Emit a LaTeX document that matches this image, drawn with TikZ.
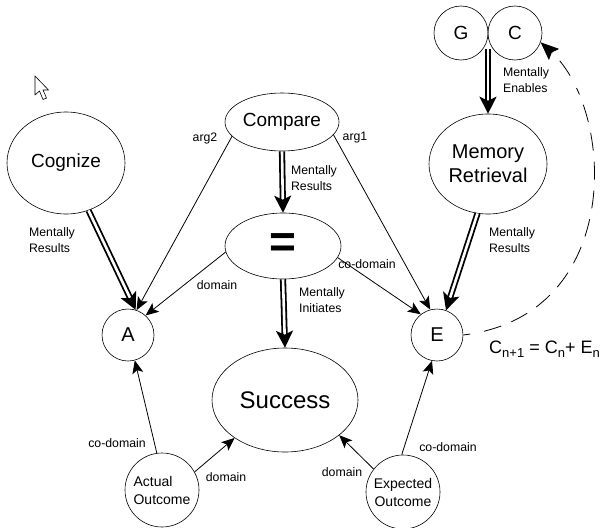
\documentclass[tikz,border=0pt]{standalone}
\usepackage{fontspec}
\setmainfont{Liberation Sans}
\usetikzlibrary{arrows.meta,shapes.geometric,calc}
\begin{document}
\begin{tikzpicture}[x=1pt,y=-1pt,
  every node/.style={inner sep=0pt},
  ell/.style={draw, ellipse, line width=0.6pt},
  circ/.style={draw, circle, line width=0.6pt},
  lbl/.style={font=\fontsize{12.3}{16}\selectfont, align=left},
  thinarrow/.style={line width=0.8pt, -{Stealth[length=13pt,width=11pt,inset=3pt]}},
  dbl/.style={line width=1.8pt, double, double distance=2.6pt, -{Stealth[length=17pt,width=17pt,inset=4pt]}},
]
\useasboundingbox (0,0) rectangle (601,527);

% cursor
\draw[line width=0.6pt, line join=round] (35,76) -- (35,95) -- (39.5,91) -- (43,99.5) -- (46.5,98) -- (43,90) -- (48.5,90) -- cycle;

% nodes
\node[ell, minimum width=118pt, minimum height=102pt, font=\fontsize{19}{22}\selectfont] (cog) at (66,163) {Cognize};
\node[ell, minimum width=114pt, minimum height=58pt, font=\fontsize{19}{22}\selectfont] (cmp) at (282,122) {Compare};
\node[ell, minimum width=116pt, minimum height=66pt] (eq) at (283,246) {};
\node[font=\fontsize{46}{46}\selectfont\bfseries] (eqt) at (eq.center) {=};
\node[ell, minimum width=146pt, minimum height=104pt, font=\fontsize{24}{28}\selectfont] (suc) at (285,400) {Success};
\node[circ, minimum size=52pt, font=\fontsize{20}{24}\selectfont] (A) at (128,335) {A};
\node[circ, minimum size=52pt, font=\fontsize{20}{24}\selectfont] (E) at (437,335) {E};
\node[circ, minimum size=74pt, font=\fontsize{14}{18}\selectfont, align=left] (ao) at (162,490) {Actual\\Outcome};
\node[circ, minimum size=74pt, font=\fontsize{14}{18}\selectfont, align=center] (eo) at (403,492) {Expected\\Outcome};
\node[circ, minimum size=54pt, font=\fontsize{19}{22}\selectfont] (G) at (461,33) {G};
\node[circ, minimum size=54pt, font=\fontsize{19}{22}\selectfont] (C) at (515,33) {C};
\node[ell, minimum width=118pt, minimum height=100pt, font=\fontsize{20}{24}\selectfont, align=center] (mem) at (488,164) {Memory\\Retrieval};
\coordinate (gc) at (488,49);

% mentally links
\draw[dbl] (cog) -- (A.73);
\draw[dbl] (cmp.south) -- (eq.north);
\draw[dbl] (eq.south) -- (suc.north);
\draw[dbl] (gc) -- (mem.north);
\draw[dbl] (mem.258) -- (E.70);

\node[lbl] (l1) at (52,240) {Mentally\\Results};
\node[lbl] (l2) at (314,178) {Mentally\\Results};
\node[lbl] (l3) at (322,300) {Mentally\\Initiates};
\node[lbl] (l4) at (526,80) {Mentally\\Enables};
\node[lbl] (l5) at (512,240) {Mentally\\Results};

% thin links
\draw[thinarrow] (cmp.196) -- (A.71);
\draw[thinarrow] (cmp.346) -- (E.105);
\draw[thinarrow] (eq.186) -- (A.48);
\draw[thinarrow] (eq.348) -- (E.128);
\draw[thinarrow] (ao.98) -- (A.285);
\draw[thinarrow] (ao.29) -- (suc.217);
\draw[thinarrow] (eo.142) -- (suc.327);
\draw[thinarrow] (eo.92) -- (E.259);

\node[lbl] (t1) at (205,138) {arg2};
\node[lbl] (t2) at (355,138) {arg1};
\node[lbl] (t3) at (217,285) {domain};
\node[lbl] (t4) at (367,264) {co-domain};
\node[lbl] (t5) at (117,443) {co-domain};
\node[lbl] (t6) at (226,477) {domain};
\node[lbl] (t7) at (342,472) {domain};
\node[lbl] (t8) at (448,447) {co-domain};

% feedback
\draw[line width=0.8pt, dash pattern=on 7pt off 14pt on 18pt off 11pt on 18pt off 11pt on 18pt off 11pt on 18pt off 11pt on 18pt off 11pt on 18pt off 11pt on 18pt off 11pt on 18pt off 11pt on 18pt off 11pt on 18pt off 11pt,
  -{Stealth[length=18pt,width=15pt,inset=3pt]}]
  (E.east) .. controls (625,315) and (615,110) .. (C.340);

\node[font=\fontsize{18}{20}\selectfont, anchor=base west] (form) at (489,353)
  {C\raisebox{-4pt}{\fontsize{13}{13}\selectfont n+1} = C\raisebox{-4pt}{\fontsize{13}{13}\selectfont n}+ E\raisebox{-4pt}{\fontsize{13}{13}\selectfont n}};
\end{tikzpicture}
\end{document}
